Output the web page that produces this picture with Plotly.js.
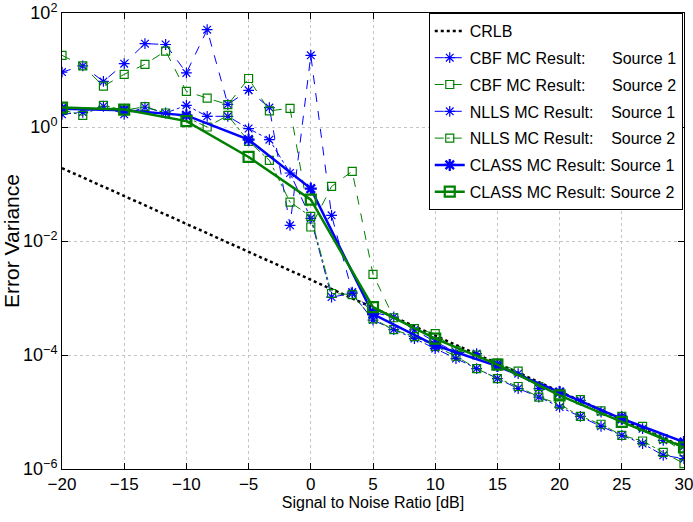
<!DOCTYPE html>
<html>
<head>
<meta charset="utf-8">
<script src="https://cdn.plot.ly/plotly-3.0.1.min.js"></script>
<style>html,body{margin:0;padding:0;background:#fff;}#chart{width:693px;height:522px;}</style>
</head>
<body>
<div id="chart"></div>
<script>
// SNR grid (dB)
var snr = [-20, -18.33, -16.67, -15, -13.33, -11.67, -10, -8.33, -6.67, -5, -3.33, -1.67, 0, 1.67, 3.33, 5, 6.67, 8.33, 10, 11.67, 13.33, 15, 16.67, 18.33, 20, 21.67, 23.33, 25, 26.67, 28.33, 30];
var snrClass = [-20, -15, -10, -5, 0, 5, 10, 15, 20, 25, 30];

var crlb = [0.19, 0.131, 0.0898, 0.0617, 0.0424, 0.0291, 0.0200, 0.0137, 0.0094, 0.00646, 0.00443, 0.00304, 0.00209, 0.00143, 0.000985, 0.000676, 0.000464, 0.000319, 0.000219, 0.000150, 0.000103, 7.08e-5, 4.86e-5, 3.34e-5, 2.29e-5, 1.57e-5, 1.08e-5, 7.41e-6, 5.09e-6, 3.49e-6, 2.40e-6];

var cbfS1 = [9.2, 11.8, 6.3, 12.9, 29, 28, 8.9, 51, 2.5, 4.4, 2.19, 0.0188, 18.1, 0.0282, 1.27e-3, 5.6e-4, 4.64e-4, 2.75e-4, 1.7e-4, 1.13e-4, 1.06e-4, 7.0e-5, 4.7e-5, 2.58e-5, 2.2e-5, 1.6e-5, 1.0e-5, 8.4e-6, 5.1e-6, 3.19e-6, 2.5e-6];
var cbfS2 = [18.1, 11.8, 5.2, 8.4, 12.6, 21.5, 4.2, 3.2, 2.47, 7.1, 1.92, 2.13, 0.0176, 0.0907, 0.167, 2.6e-3, 4.5e-4, 2.9e-4, 2.37e-4, 1.2e-4, 1.0e-4, 7.24e-5, 5.2e-5, 2.8e-5, 2.0e-5, 1.65e-5, 1.05e-5, 8.4e-6, 5.6e-6, 3.4e-6, 2.0e-6];
var nllsS1 = [1.67, 1.81, 2.31, 1.67, 2.22, 1.76, 2.4, 1.54, 1.54, 0.94, 0.60, 0.156, 0.025, 1.04e-3, 1.2e-3, 4.1e-4, 2.79e-4, 1.94e-4, 1.30e-4, 8.65e-5, 5.77e-5, 3.86e-5, 2.58e-5, 1.83e-5, 1.22e-5, 8.4e-6, 5.6e-6, 3.9e-6, 2.79e-6, 1.74e-6, 1.52e-6];
var nllsS2 = [2.0, 1.6, 2.4, 1.96, 2.27, 1.76, 1.48, 1.0, 1.6, 0.56, 0.26, 0.048, 0.027, 1.2e-3, 1.15e-3, 4.3e-4, 2.79e-4, 2.1e-4, 1.42e-4, 9.5e-5, 5.77e-5, 3.86e-5, 2.8e-5, 1.83e-5, 1.37e-5, 8.4e-6, 6.1e-6, 3.9e-6, 3.1e-6, 1.96e-6, 1.24e-6];
var classS1 = [2.10, 1.96, 1.60, 0.60, 0.083, 5.2e-4, 1.48e-4, 6.4e-5, 2.24e-5, 7.6e-6, 2.97e-6];
var classS2 = [2.19, 2.02, 1.27, 0.298, 0.053, 6.9e-4, 1.94e-4, 6.8e-5, 1.96e-5, 6.7e-6, 2.4e-6];

var names = [
  'CRLB',
  'CBF MC Result:\u00A0\u00A0\u00A0\u00A0\u00A0\u00A0Source 1',
  'CBF MC Result:\u00A0\u00A0\u00A0\u00A0\u00A0\u00A0Source 2',
  'NLLS MC Result:\u00A0\u00A0\u00A0\u00A0Source 1',
  'NLLS MC Result:\u00A0\u00A0\u00A0\u00A0Source 2',
  'CLASS MC Result: Source 1',
  'CLASS MC Result: Source 2'
];
var yTickVals = [1e-6, 1e-4, 1e-2, 1, 100];
var yTickText = ['10<sup>\u22126</sup>', '10<sup>\u22124</sup>', '10<sup>\u22122</sup>', '10<sup>0</sup>', '10<sup>2</sup>'];
var xTickVals = [-20, -15, -10, -5, 0, 5, 10, 15, 20, 25, 30];

var BLUE = '#0000ff', GREEN = '#008000';
var FONT = 'Liberation Sans, Arial, Helvetica, sans-serif';

var traces = [
  {x: snr, y: crlb, name: names[0], legendgroup: 'g0', mode: 'lines', line: {color: '#000', width: 2.5, dash: 'dot'}},
  {x: snr, y: cbfS1, name: names[1], legendgroup: 'g1', mode: 'lines+markers', line: {color: BLUE, width: 1, dash: 'dash'},
   marker: {symbol: 'asterisk-open', size: 9, color: BLUE, line: {color: BLUE, width: 1.2}}},
  {x: snr, y: cbfS2, name: names[2], legendgroup: 'g2', mode: 'lines+markers', line: {color: GREEN, width: 1, dash: 'dash'},
   marker: {symbol: 'square-open', size: 8, color: GREEN, line: {color: GREEN, width: 1.2}}},
  {x: snr, y: nllsS1, name: names[3], legendgroup: 'g3', mode: 'lines+markers', line: {color: BLUE, width: 1, dash: 'dashdot'},
   marker: {symbol: 'asterisk-open', size: 9, color: BLUE, line: {color: BLUE, width: 1.2}}},
  {x: snr, y: nllsS2, name: names[4], legendgroup: 'g4', mode: 'lines+markers', line: {color: GREEN, width: 1, dash: 'dashdot'},
   marker: {symbol: 'square-open', size: 8, color: GREEN, line: {color: GREEN, width: 1.2}}},
  {x: snrClass, y: classS1, name: names[5], legendgroup: 'g5', mode: 'lines+markers', line: {color: BLUE, width: 2.5},
   marker: {symbol: 'asterisk-open', size: 10, color: BLUE, line: {color: BLUE, width: 2.2}}},
  {x: snrClass, y: classS2, name: names[6], legendgroup: 'g6', mode: 'lines+markers', line: {color: GREEN, width: 2.5},
   marker: {symbol: 'square-open', size: 10, color: GREEN, line: {color: GREEN, width: 2.2}}}
];

var axisCommon = {
  showline: true, linecolor: '#000', linewidth: 1, mirror: 'ticks',
  ticks: 'inside', ticklen: 6, tickcolor: '#000', tickwidth: 1,
  showgrid: true, gridcolor: '#c4c4c4', gridwidth: 1, griddash: 'dot',
  zeroline: false, ticklabeloverflow: 'allow'
};

var layout = {
  width: 693, height: 522,
  margin: {l: 62, r: 9, t: 13, b: 53},
  paper_bgcolor: '#fff', plot_bgcolor: '#fff',
  font: {family: FONT, color: '#000'},
  showlegend: true,
  xaxis: Object.assign({}, axisCommon, {
    range: [-20, 30], tickmode: 'array', tickvals: xTickVals,
    tickfont: {family: FONT, size: 17, color: '#000'},
    title: {text: 'Signal to Noise Ratio [dB]', font: {family: FONT, size: 16, color: '#000'}, standoff: 2}
  }),
  yaxis: Object.assign({}, axisCommon, {
    type: 'log', range: [-6, 2], tickmode: 'array', tickvals: yTickVals, ticktext: yTickText,
    tickfont: {family: FONT, size: 18, color: '#000'},
    title: {text: 'Error Variance', font: {family: FONT, size: 21, color: '#000'}, standoff: 6}
  }),
  legend: {
    x: 0.998, xanchor: 'right', y: 1, yanchor: 'top',
    bgcolor: '#fff', bordercolor: '#000', borderwidth: 1,
    font: {family: FONT, size: 16, color: '#000'},
    traceorder: 'grouped', tracegroupgap: 3, itemwidth: 30
  }
};

Plotly.newPlot('chart', traces, layout, {displayModeBar: false, staticPlot: true});
</script>
</body>
</html>
